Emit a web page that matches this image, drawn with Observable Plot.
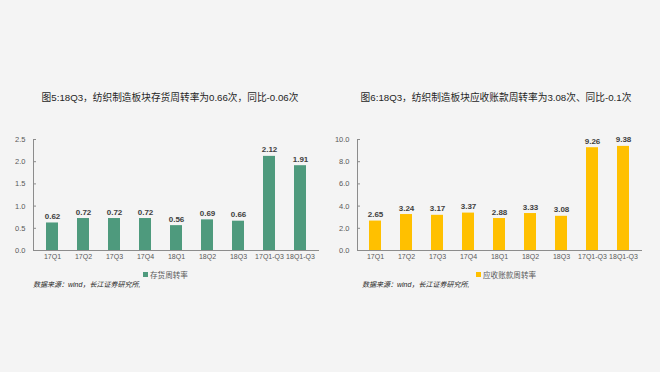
<!DOCTYPE html>
<html><head><meta charset="utf-8">
<script src="https://cdn.jsdelivr.net/npm/d3@7"></script>
<script src="https://cdn.jsdelivr.net/npm/@observablehq/plot@0.6"></script>
<style>
html,body{margin:0;padding:0;background:#f4f4f4;}
#page{position:relative;width:660px;height:372px;background:#f4f4f4;font-family:"Liberation Sans","Noto Sans CJK SC",sans-serif;overflow:hidden;}
.title{position:absolute;top:90px;font-size:9.7px;color:#262626;white-space:nowrap;text-align:center;}
.plot{position:absolute;top:120px;}
.legend{position:absolute;top:269px;font-size:7.6px;color:#595959;white-space:nowrap;display:flex;align-items:center;}
.legend i{display:inline-block;width:5px;height:5px;margin-right:2px;}
.src{position:absolute;top:279px;font-size:7px;font-style:italic;color:#262626;white-space:nowrap;}
</style></head>
<body><div id="page">
<div class="title" style="left:0;width:340px;">图5:18Q3，纺织制造板块存货周转率为0.66次，同比-0.06次</div>
<div class="title" style="left:330px;width:332px;">图6:18Q3，纺织制造板块应收账款周转率为3.08次、同比-0.1次</div>
<div class="plot" id="p1" style="left:0;"></div>
<div class="plot" id="p2" style="left:330px;"></div>
<div class="legend" style="left:143px;"><i style="background:#4e9a7d"></i>存货周转率</div>
<div class="legend" style="left:476px;"><i style="background:#ffc000"></i>应收账款周转率</div>
<div class="src" style="left:33px;">数据来源：wind，长江证券研究所,</div>
<div class="src" style="left:362px;">数据来源：wind，长江证券研究所,</div>
</div>
<script>
const categories = ["17Q1","17Q2","17Q3","17Q4","18Q1","18Q2","18Q3","17Q1-Q3","18Q1-Q3"];
const inventoryTurnover = [0.62,0.72,0.72,0.72,0.56,0.69,0.66,2.12,1.91];
const receivableTurnover = [2.65,3.24,3.17,3.37,2.88,3.33,3.08,9.26,9.38];
const ticks1 = [0,0.5,1.0,1.5,2.0,2.5];
const ticks2 = [0,2,4,6,8,10];

function chart(values, ticks, color, marginLeft, marginRight) {
  const data = categories.map((c,i)=>({cat:c, v:values[i]}));
  return Plot.plot({
    width: 330, height: 150,
    marginLeft, marginRight, marginTop: 19, marginBottom: 20,
    style: {background:"transparent", fontSize:"7.5px", fontFamily:"'Liberation Sans','Noto Sans CJK SC',sans-serif", color:"#595959"},
    x: {domain: categories, paddingInner: 0.6, paddingOuter: 0.3, label: null},
    y: {domain: [0, ticks[ticks.length-1]], label: null},
    marks: [
      Plot.barY(data, {x:"cat", y:"v", fill: color}),
      Plot.text(data, {x:"cat", y:"v", text: d=>d.v.toFixed(2), lineAnchor:"bottom", dy:-4, fontWeight:"bold", fill:"#404040", fontSize:8}),
      Plot.frame({anchor:"left", stroke:"#8c8c8c"}),
      Plot.ruleY([0], {stroke:"#8c8c8c"}),
      Plot.axisY({ticks, tickFormat: d=>d.toFixed(1), tickSize:-3, tickPadding:11, stroke:"#8c8c8c", fill:"#595959", label:null}),
      Plot.axisX({tickSize:0, tickPadding:4, fill:"#595959", fontSize:7, label:null})
    ]
  });
}
document.getElementById("p1").appendChild(chart(inventoryTurnover, ticks1, "#4e9a7d", 33, 11));
document.getElementById("p2").appendChild(chart(receivableTurnover, ticks2, "#ffc000", 27, 18));
</script>
</body></html>
